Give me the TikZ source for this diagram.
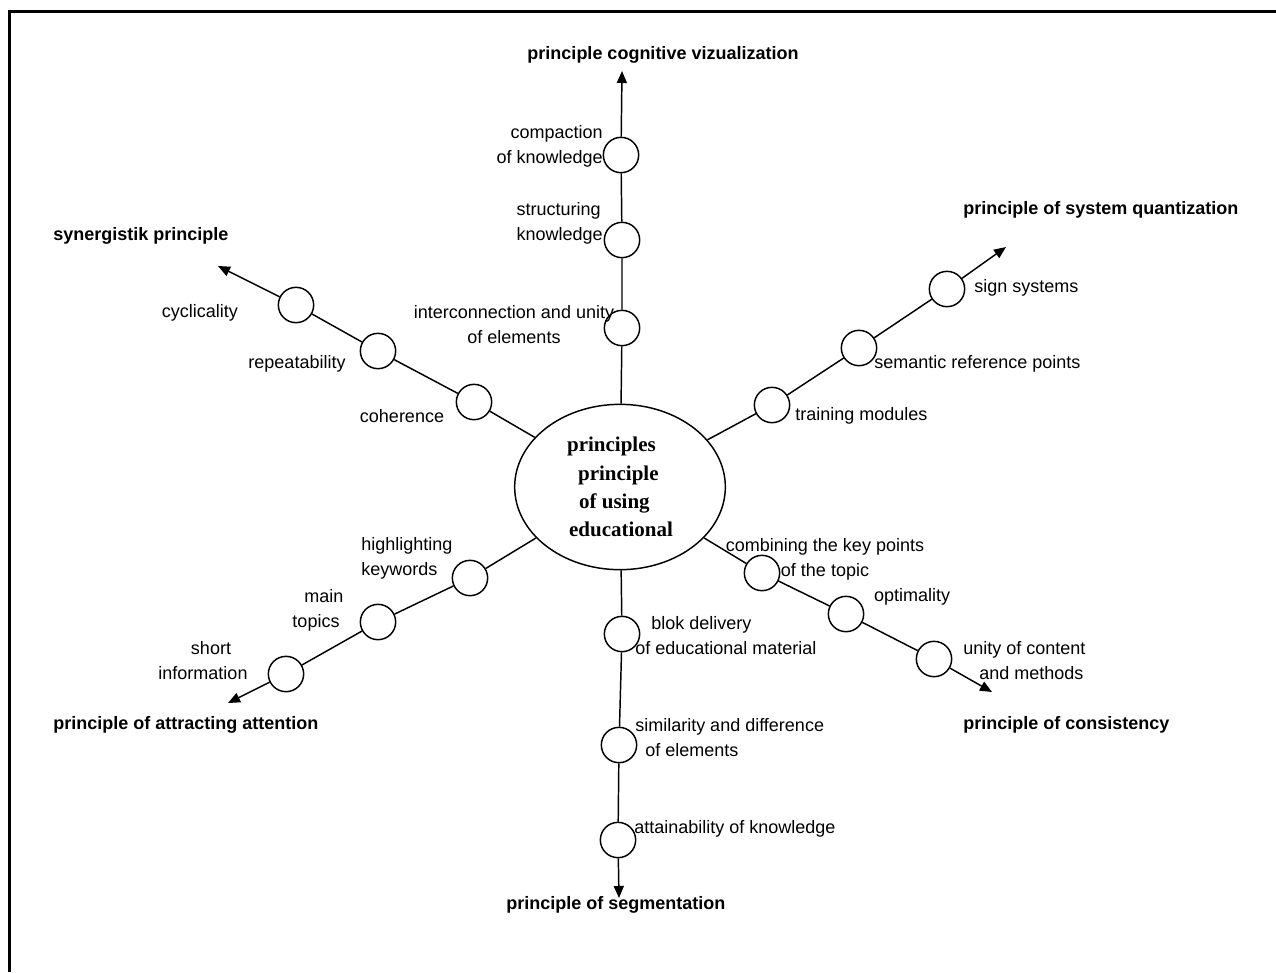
\documentclass[tikz,border=0pt]{standalone}
\usepackage{fontspec}
\setmainfont{Liberation Sans}
\newfontfamily\serifbf{Liberation Serif}
\usetikzlibrary{arrows.meta,shapes.geometric}
\begin{document}
\begin{tikzpicture}[x=0.75pt,y=-0.75pt,
 bead/.style={circle,draw,line width=1.1pt,minimum size=26.5pt,inner sep=0pt,fill=white},
 hub/.style={ellipse,draw,line width=1.1pt,minimum width=158pt,minimum height=124pt,inner sep=0pt,
   font=\serifbf\fontsize{15.75pt}{21.2pt}\selectfont\bfseries,align=left},
 lbl/.style={font=\fontsize{13.5pt}{18.75pt}\selectfont,inner sep=0pt},
 ttl/.style={font=\fontsize{13.5pt}{18.75pt}\selectfont\bfseries,inner sep=0pt},
 conn/.style={line width=1.1pt},
 arr/.style={line width=1.1pt,-{Triangle[length=9pt,width=7.5pt]}}]
\useasboundingbox (0,0) rectangle (1276,972);
\draw[line width=2.25pt] (9.5,972) -- (9.5,11.5) -- (1276,11.5);

% hub
\node[hub] (E) at (620,487) {principles\\\hspace{8.25pt}principle\\\hspace{9pt}of using\\\hspace{1.5pt}educational};

% top branch
\node[bead] (t3) at (622,328) {};
\node[bead] (t2) at (622,240) {};
\node[bead] (t1) at (621,155) {};
\coordinate (tT) at (622,71);
\draw[conn] (E) -- (t3) -- (t2) -- (t1);
\draw[arr] (t1) -- (tT);
\node[ttl] (tL) at (663,55) {principle cognitive vizualization};
\node[lbl,anchor=east,align=right] (t1L) at (603,146) {compaction\\of knowledge};
\node[lbl,anchor=east,align=left] (t2L) at (603,223) {structuring\\knowledge};
\node[lbl,align=center] (t3L) at (514,325) {interconnection and unity\\of elements};

% upper-left branch
\node[bead] (a1) at (474,402) {};
\node[bead] (a2) at (378,351) {};
\node[bead] (a3) at (296,305) {};
\coordinate (aT) at (218,266);
\draw[conn] (E) -- (a1) -- (a2) -- (a3);
\draw[arr] (a3) -- (aT);
\node[ttl,anchor=west] (aL) at (53,236) {synergistik principle};
\node[lbl] (a3L) at (200,313) {cyclicality};
\node[lbl] (a2L) at (297,364) {repeatability};
\node[lbl] (a1L) at (402,416) {coherence};

% upper-right branch
\node[bead] (b1) at (772,405) {};
\node[bead] (b2) at (859,348) {};
\node[bead] (b3) at (947,289) {};
\coordinate (bT) at (1006,247);
\draw[conn] (E) -- (b1) -- (b2) -- (b3);
\draw[arr] (b3) -- (bT);
\node[ttl,anchor=west] (bL) at (963,210) {principle of system quantization};
\node[lbl,anchor=west] (b3L) at (974,288) {sign systems};
\node[lbl,anchor=west] (b2L) at (874,364) {semantic reference points};
\node[lbl,anchor=west] (b1L) at (795,416) {training modules};

% lower-left branch
\node[bead] (c1) at (470,578) {};
\node[bead] (c2) at (378,622) {};
\node[bead] (c3) at (286,674) {};
\coordinate (cT) at (228,703);
\draw[conn] (E) -- (c1) -- (c2) -- (c3);
\draw[arr] (c3) -- (cT);
\node[ttl,anchor=west] (cL) at (53,725) {principle of attracting attention};
\node[lbl,anchor=west,align=left] (c1L) at (361,558) {highlighting\\keywords};
\node[lbl,align=center] (c2L) at (316,610) {\hspace{12pt}main\\topics};
\node[lbl,align=center] (c3L) at (203,661) {\hspace{12pt}short\\information};

% lower-right branch
\node[bead] (d1) at (762,573) {};
\node[bead] (d2) at (846,614) {};
\node[bead] (d3) at (934,659) {};
\coordinate (dT) at (992,692);
\draw[conn] (E) -- (d1) -- (d2) -- (d3);
\draw[arr] (d3) -- (dT);
\node[ttl,anchor=west] (dL) at (963,725) {principle of consistency};
\node[lbl,align=center] (d1L) at (825,559) {combining the key points\\of the topic};
\node[lbl] (d2L) at (912,597) {optimality};
\node[lbl,align=left,anchor=west] (d3L) at (963,661) {unity of content\\\hspace{12pt}and methods};

% bottom branch
\node[bead] (e1) at (622,634) {};
\node[bead] (e2) at (619,745) {};
\node[bead] (e3) at (618,840) {};
\coordinate (eT) at (619,898);
\draw[conn] (E) -- (e1) -- (e2) -- (e3);
\draw[arr] (e3) -- (eT);
\node[ttl,anchor=west] (eL) at (506,905) {principle of segmentation};
\node[lbl,anchor=west,align=left] (e1L) at (635,636) {\hspace{12pt}blok delivery\\of educational material};
\node[lbl,anchor=west,align=left] (e2L) at (635,738) {similarity and difference\\\hspace{7.5pt}of elements};
\node[lbl,anchor=west] (e3L) at (634,829) {attainability of knowledge};
\end{tikzpicture}
\end{document}
